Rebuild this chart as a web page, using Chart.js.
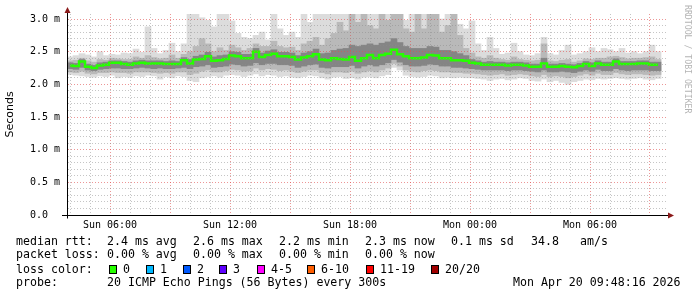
<!DOCTYPE html>
<html>
<head>
<meta charset="utf-8">
<script src="https://cdn.jsdelivr.net/npm/chart.js@4.4.1/dist/chart.umd.min.js"></script>
<style>
  body { margin: 0; background: #fff; }
  #wrap { position: relative; width: 697px; height: 297px; }
  .lg { position: absolute; font: 11.6px 'DejaVu Sans Mono', monospace; line-height: 14px; color: #000; white-space: pre; }
  .box { position: absolute; top: 265px; width: 6px; height: 7px; border: 1px solid #000; }
  #wm { position: absolute; left: 683px; top: 5px; writing-mode: vertical-rl; font: 8.2px 'DejaVu Sans Mono', monospace; line-height: 10px; color: #b4b4b4; }
</style>
</head>
<body>
<div id="wrap">
  <canvas id="smoke" width="697" height="297"></canvas>
  <div id="wm">RRDTOOL / TOBI OETIKER</div>
</div>
<script>
// 100 columns of 18 minutes, Sun 03:51 .. Mon 09:51, values in ms
const median = [2.29,2.28,2.35,2.27,2.25,2.29,2.30,2.33,2.33,2.31, 2.30,2.32,2.33,2.32,2.32,2.32,2.31,2.31,2.31,2.37,
  2.32,2.38,2.39,2.43,2.36,2.37,2.39,2.44,2.43,2.40, 2.40,2.50,2.42,2.45,2.47,2.43,2.43,2.42,2.38,2.41,
  2.43,2.46,2.38,2.37,2.40,2.39,2.38,2.42,2.36,2.40, 2.45,2.40,2.45,2.47,2.53,2.46,2.43,2.40,2.40,2.41,
  2.45,2.44,2.40,2.40,2.37,2.37,2.36,2.33,2.32,2.30, 2.30,2.30,2.30,2.29,2.30,2.30,2.29,2.27,2.27,2.32,
  2.27,2.27,2.28,2.27,2.26,2.28,2.31,2.28,2.32,2.30, 2.30,2.35,2.31,2.31,2.31,2.32,2.32,2.30,2.30,null];

const maxRtt = [2.42,2.44,2.47,2.45,2.42,2.50,2.44,2.46,2.45,2.48, 2.47,2.54,2.49,2.88,2.55,2.47,2.52,2.63,2.50,2.62,
  3.08,3.08,3.02,2.98,2.88,3.08,3.08,2.97,2.78,2.72, 2.70,2.75,2.80,2.68,3.08,2.85,2.75,2.80,2.72,3.08,
  2.95,3.08,3.08,3.08,3.08,3.08,3.08,3.08,3.08,3.08, 3.08,3.08,3.08,3.08,3.08,3.08,2.98,3.08,3.08,3.08,
  3.08,3.08,3.00,3.08,3.08,2.92,2.85,2.97,2.62,2.52, 2.72,2.55,2.46,2.48,2.63,2.50,2.45,2.44,2.47,2.72,
  2.47,2.45,2.52,2.60,2.45,2.47,2.50,2.56,2.50,2.55, 2.53,2.50,2.55,2.48,2.50,2.47,2.50,2.60,2.50,null];

const upper = [2.36,2.37,2.40,2.36,2.34,2.38,2.37,2.40,2.39,2.38, 2.38,2.42,2.40,2.44,2.41,2.39,2.40,2.45,2.40,2.46,
  2.50,2.58,2.70,2.62,2.50,2.56,2.52,2.60,2.56,2.52, 2.55,2.62,2.58,2.58,2.66,2.58,2.56,2.57,2.52,2.62,
  2.66,2.72,2.60,2.70,2.78,2.95,2.82,3.08,2.95,3.08, 2.90,2.85,3.08,2.98,3.08,3.08,2.85,2.80,3.08,2.85,
  3.08,3.08,2.80,2.90,3.08,2.75,2.55,2.48,2.42,2.40, 2.44,2.40,2.38,2.37,2.42,2.38,2.37,2.36,2.37,2.62,
  2.36,2.35,2.37,2.38,2.34,2.36,2.39,2.38,2.40,2.40, 2.42,2.43,2.41,2.39,2.40,2.40,2.41,2.42,2.38,null];

const hiRtt = [2.33,2.32,2.38,2.31,2.29,2.33,2.34,2.36,2.36,2.35, 2.34,2.36,2.37,2.36,2.36,2.36,2.35,2.36,2.35,2.41,
  2.38,2.43,2.45,2.49,2.42,2.44,2.45,2.50,2.49,2.46, 2.46,2.55,2.48,2.51,2.53,2.49,2.49,2.48,2.44,2.48,
  2.50,2.54,2.47,2.48,2.52,2.54,2.55,2.60,2.58,2.60, 2.62,2.60,2.63,2.65,2.70,2.64,2.58,2.55,2.55,2.55,
  2.58,2.57,2.52,2.52,2.50,2.47,2.44,2.38,2.36,2.34, 2.35,2.34,2.34,2.33,2.34,2.34,2.33,2.31,2.31,2.40,
  2.31,2.31,2.32,2.31,2.30,2.32,2.35,2.33,2.36,2.34, 2.34,2.39,2.35,2.35,2.35,2.36,2.36,2.34,2.34,null];

const loRtt = [2.24,2.23,2.26,2.22,2.21,2.23,2.24,2.25,2.25,2.24, 2.24,2.25,2.26,2.25,2.24,2.25,2.24,2.24,2.25,2.26,
  2.24,2.27,2.28,2.30,2.26,2.27,2.28,2.31,2.30,2.28, 2.29,2.33,2.30,2.32,2.32,2.30,2.30,2.29,2.26,2.28,
  2.30,2.31,2.26,2.25,2.27,2.27,2.27,2.29,2.25,2.28, 2.30,2.28,2.30,2.33,2.38,2.34,2.30,2.28,2.28,2.29,
  2.31,2.30,2.28,2.28,2.26,2.26,2.25,2.24,2.23,2.22, 2.22,2.22,2.22,2.21,2.22,2.22,2.21,2.20,2.19,2.22,
  2.19,2.19,2.20,2.19,2.18,2.20,2.22,2.20,2.23,2.21, 2.21,2.24,2.22,2.21,2.22,2.22,2.22,2.21,2.21,null];

const lower = [2.19,2.18,2.20,2.17,2.16,2.18,2.18,2.19,2.18,2.18, 2.17,2.19,2.19,2.19,2.18,2.17,2.18,2.17,2.19,2.19,
  2.15,2.17,2.20,2.22,2.19,2.19,2.21,2.23,2.22,2.20, 2.21,2.25,2.22,2.24,2.23,2.21,2.22,2.20,2.18,2.20,
  2.22,2.22,2.18,2.16,2.19,2.19,2.18,2.20,2.17,2.19, 2.21,2.19,2.22,2.25,2.32,2.28,2.22,2.20,2.19,2.21,
  2.22,2.21,2.19,2.19,2.18,2.18,2.17,2.17,2.16,2.15, 2.14,2.15,2.16,2.14,2.15,2.16,2.15,2.13,2.12,2.15,
  2.12,2.13,2.12,2.10,2.12,2.14,2.16,2.14,2.17,2.15, 2.15,2.18,2.16,2.15,2.16,2.16,2.15,2.14,2.15,null];

const minRtt = [2.15,2.14,2.13,2.12,2.11,2.13,2.12,2.14,2.10,2.12, 2.11,2.13,2.12,2.14,2.13,2.08,2.12,2.10,2.13,2.12,
  2.06,2.04,2.10,2.12,2.13,2.11,2.14,2.15,2.14,2.12, 2.14,2.16,2.13,2.15,2.14,2.12,2.13,2.11,2.10,2.12,
  2.14,2.13,2.10,2.08,2.11,2.12,2.09,2.10,2.08,2.11, 2.12,2.10,2.13,2.15,2.26,2.22,2.14,2.12,2.11,2.12,
  2.14,2.13,2.10,2.11,2.10,2.11,2.10,2.10,2.09,2.08, 2.06,2.08,2.09,2.07,2.08,2.10,2.09,2.06,2.05,2.08,
  2.04,2.06,2.03,2.00,2.04,2.06,2.08,2.07,2.09,2.08, 2.09,2.10,2.09,2.08,2.09,2.10,2.08,2.07,2.09,null];

const tickHours = [6, 12, 18, 24, 30];
const timeTicks = ['Sun 06:00', 'Sun 12:00', 'Sun 18:00', 'Mon 00:00', 'Mon 06:00'];
const yTickLabels = ['0.0  ', '0.5 m', '1.0 m', '1.5 m', '2.0 m', '2.5 m', '3.0 m'];

const rttStats = ['2.4 ms avg', '2.6 ms max', '2.2 ms min', '2.3 ms now', '0.1 ms sd', '34.8', 'am/s'];
const lossStats = ['0.00 % avg', '0.00 % max', '0.00 % min', '0.00 % now'];
const lossLabels = ['0', '1', '2', '3', '4-5', '6-10', '11-19', '20/20'];
const lossColors = ['#26ff00', '#00b8ff', '#0059ff', '#5e00ff', '#ff00ff', '#ff5e00', '#ff0000', '#a10000'];

const monoFont = 'DejaVu Sans Mono';
const minorGrid = 'rgba(140,140,140,0.5)';
const majorGrid = 'rgba(224,80,80,0.6)';

const slots = [];
for (let i = 0; i < median.length; i++) {
  const m = 231 + i * 18;
  slots.push(String(Math.floor(m / 60) % 24).padStart(2, '0') + ':' + String(m % 60).padStart(2, '0'));
}

function band(lo, hi) {
  return lo.map((v, i) => (v == null ? null : [v, hi[i]]));
}

const axisArrows = {
  id: 'axisArrows',
  afterDraw(chart) {
    const { ctx, chartArea: a } = chart;
    const x0 = Math.round(a.left) + 0.5, y0 = Math.round(a.bottom) + 0.5;
    ctx.save();
    ctx.strokeStyle = '#000';
    ctx.lineWidth = 1;
    ctx.beginPath();
    ctx.moveTo(62, y0); ctx.lineTo(a.right + 2, y0);
    ctx.moveTo(x0, a.top - 2); ctx.lineTo(x0, y0 + 3);
    ctx.stroke();
    ctx.fillStyle = '#8b1a1a';
    ctx.beginPath();
    ctx.moveTo(a.right + 1, y0 - 3); ctx.lineTo(a.right + 7, y0); ctx.lineTo(a.right + 1, y0 + 3);
    ctx.fill();
    ctx.beginPath();
    ctx.moveTo(x0 - 3, a.top - 1); ctx.lineTo(x0, a.top - 7); ctx.lineTo(x0 + 3, a.top - 1);
    ctx.fill();
    ctx.restore();
  }
};

const barOpts = { grouped: false, barPercentage: 1, categoryPercentage: 1, borderWidth: 0 };

new Chart(document.getElementById('smoke'), {
  type: 'bar',
  data: {
    labels: slots,
    datasets: [
      { type: 'line', label: 'median', data: median, borderColor: '#26ff00', borderWidth: 2.5,
        pointRadius: 0, stepped: 'middle', order: 0 },
      Object.assign({ label: 'inner', data: band(loRtt, hiRtt), backgroundColor: '#858585', order: 1 }, barOpts),
      Object.assign({ label: 'mid', data: band(lower, upper), backgroundColor: '#b9b9b9', order: 2 }, barOpts),
      Object.assign({ label: 'outer', data: band(minRtt, maxRtt), backgroundColor: '#dcdcdc', order: 3 }, barOpts)
    ]
  },
  options: {
    responsive: false,
    animation: false,
    devicePixelRatio: 1,
    layout: { autoPadding: false, padding: { left: 0, top: 14, right: 30, bottom: 62 } },
    plugins: { legend: { display: false }, tooltip: { enabled: false } },
    scales: {
      x: { display: false },
      t: {
        type: 'linear', position: 'bottom', min: 3.85, max: 33.85, offset: false,
        afterBuildTicks: s => {
          const t = [];
          for (let h = 4; h <= 33; h++) t.push({ value: h });
          s.ticks = t;
        },
        afterFit: s => { s.height = 20; },
        grid: { z: 1, offset: false, drawTicks: false, color: c => (c.tick && c.tick.value % 3 === 0 ? majorGrid : minorGrid) },
        border: { z: 2, color: '#000', dash: [1, 2] },
        ticks: {
          autoSkip: false, maxRotation: 0, padding: 4, color: '#000',
          font: { family: monoFont, size: 10 },
          callback: v => { const k = tickHours.indexOf(v); return k >= 0 ? timeTicks[k] : ''; }
        }
      },
      y: {
        min: 0, max: 3.077,
        afterBuildTicks: s => {
          const t = [];
          for (let k = 0; k <= 30; k++) t.push({ value: k / 10 });
          s.ticks = t;
        },
        afterFit: s => { s.width = 67; },
        grid: { z: 1, drawTicks: false, color: c => (c.tick && Math.round(c.tick.value * 10) % 5 === 0 ? majorGrid : minorGrid) },
        border: { z: 2, color: '#000', dash: [1, 2] },
        ticks: {
          autoSkip: false, padding: 7, color: '#000',
          font: { family: monoFont, size: 10 },
          callback: v => { const k = Math.round(v * 10); return k % 5 === 0 ? yTickLabels[k / 5] : ''; }
        },
        title: { display: true, text: 'Seconds', color: '#000', font: { family: 'DejaVu Sans', size: 11 }, padding: { top: 4, bottom: 0 } }
      }
    }
  },
  plugins: [axisArrows]
});

// legend rows under the graph
const wrap = document.getElementById('wrap');
function put(text, left, top) {
  const d = document.createElement('div');
  d.className = 'lg';
  d.style.left = left + 'px';
  d.style.top = top + 'px';
  d.textContent = text;
  wrap.appendChild(d);
}
const colX = [107, 193, 279, 365, 451, 531, 580];
put('median rtt:', 16, 234);
rttStats.forEach((s, i) => put(s, colX[i], 234));
put('packet loss:', 16, 247);
lossStats.forEach((s, i) => put(s, colX[i], 247));
put('loss color:', 16, 262);
const boxX = [109, 146, 183, 219, 257, 307, 366, 431];
lossLabels.forEach((s, i) => {
  const b = document.createElement('div');
  b.className = 'box';
  b.style.left = boxX[i] + 'px';
  b.style.background = lossColors[i];
  wrap.appendChild(b);
  put(s, boxX[i] + 14, 262);
});
put('probe:', 16, 275);
put('20 ICMP Echo Pings (56 Bytes) every 300s', 107, 275);
put('Mon Apr 20 09:48:16 2026', 513, 275);
</script>
</body>
</html>
